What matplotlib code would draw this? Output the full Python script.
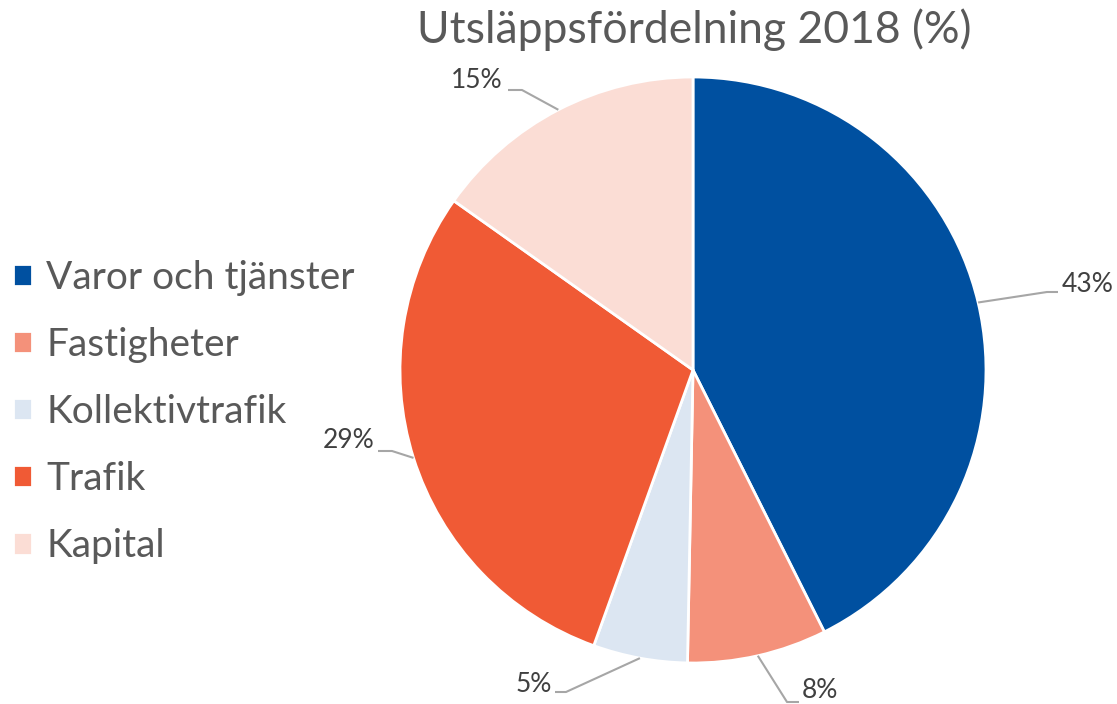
import matplotlib.pyplot as plt
import numpy as np

# data
categories = ['Varor och tjänster', 'Fastigheter', 'Kollektivtrafik', 'Trafik', 'Kapital']
shares = [42.6, 7.7, 5.2, 29.3, 15.2]
colors = ['#0050A0', '#F4917A', '#DCE6F2', '#F05A35', '#FBDDD5']
title = 'Utsläppsfördelning 2018 (%)'

plt.rcParams['font.family'] = ['Lato', 'DejaVu Sans']

W, H = 1117, 704
fig = plt.figure(figsize=(W / 100, H / 100), dpi=100)
ax = fig.add_axes([0, 0, 1, 1])

cx, cy, r = 693, H - 370, 293
wedges, _ = ax.pie(shares, colors=colors, startangle=90, counterclock=False,
                   center=(cx, cy), radius=r, frame=True,
                   wedgeprops=dict(edgecolor='white', linewidth=2))
ax.set_xlim(0, W)
ax.set_ylim(0, H)
ax.set_aspect('equal')
ax.axis('off')

# label layout (pixels, top-down): elbow point, end of horizontal, text anchor
layout = [
    ((1047, 292), (1058, 292), (1062, 284), 'left'),
    ((787, 702), (799, 702), (802, 690), 'left'),
    ((566, 692), (555, 692), (552, 685), 'right'),
    ((392, 451), (378, 451), (374, 440), 'right'),
    ((522, 90), (508, 90), (503, 80), 'right'),
]
for w, val, (el, end, txt, ha) in zip(wedges, shares, layout):
    ang = np.deg2rad((w.theta1 + w.theta2) / 2)
    px, py = cx + r * np.cos(ang), cy + r * np.sin(ang)
    ax.plot([px, el[0], end[0]], [py, H - el[1], H - end[1]],
            color='#A6A6A6', lw=1.5, solid_capstyle='butt')
    ax.text(txt[0], H - txt[1], f'{round(val)}%', ha=ha, va='center',
            fontsize=19, color='#404040')

fig.text(694 / W, 1 - 30 / H, title, ha='center', va='center',
         fontsize=32, color='#595959')

leg = ax.legend(wedges, categories, loc='center left', bbox_to_anchor=(0.0, 1 - 412 / H),
                frameon=False, fontsize=28, handlelength=0.5, handleheight=0.5,
                handletextpad=0.36, labelspacing=0.8, borderaxespad=0.0, borderpad=0.33)
for t in leg.get_texts():
    t.set_color('#595959')

fig.savefig('out.png', dpi=100)
